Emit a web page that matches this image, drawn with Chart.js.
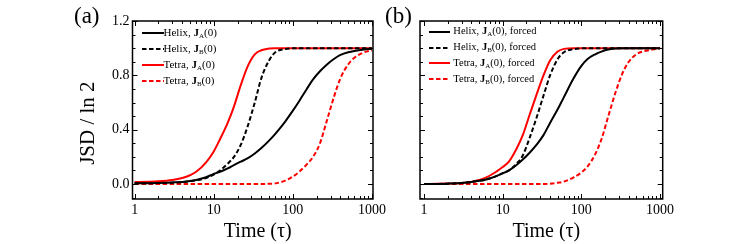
<!DOCTYPE html>
<html lang="en">
<head>
<meta charset="UTF-8">
<title>JSD vs time</title>
<script src="https://cdn.jsdelivr.net/npm/chart.js"></script>
<style>
    body { margin: 0; background: #fff; }
    #page {
        position: relative;
        width: 748px;
        height: 244px;
        overflow: hidden;
        font-family: "Liberation Serif", "Times New Roman", serif;
        color: #000;
    }
    canvas { position: absolute; top: 0; }
    #chartA { left: 0; }
    #chartB { left: 374px; }
    .tag { position: absolute; top: 1px; font-size: 23px; line-height: 30px; }
    .legend { position: absolute; font-size: 11px; }
    #legendB { font-size: 10.5px; }
    .legend .row { display: flex; align-items: center; height: 16px; white-space: nowrap; }
    #legendB .row { height: 15.8px; }
    .legend svg { flex: none; }
    .legend sub { font-size: 7px; vertical-align: -2px; }
</style>
</head>
<body>
<div id="page">
    <canvas id="chartA" width="400" height="244"></canvas>
    <canvas id="chartB" width="374" height="244"></canvas>
    <div class="tag" style="left:74px">(a)</div>
    <div class="tag" style="left:385px">(b)</div>
    <div class="legend" id="legendA" style="left:141.5px; top:25.3px"></div>
    <div class="legend" id="legendB" style="left:429.3px; top:24px"></div>
</div>

<script>
// time grid shared by every curve (tau)
const timeGrid = [1, 1.5, 2, 3, 4, 5, 6, 8, 10, 12, 15, 18, 22, 27, 33, 40,
                  50, 60, 80, 100, 120, 150, 180, 220, 270, 330, 400, 500, 600, 800, 1000];

// panel (a)
const helixA_a = [0.005, 0.006, 0.008, 0.012, 0.016, 0.022, 0.03, 0.05, 0.075, 0.09, 0.115, 0.14, 0.165, 0.19, 0.225, 0.265,
                  0.32, 0.37, 0.46, 0.54, 0.61, 0.7, 0.77, 0.83, 0.88, 0.92, 0.95, 0.97, 0.98, 0.99, 0.995];
const helixB_a = [0.005, 0.005, 0.007, 0.01, 0.015, 0.02, 0.027, 0.045, 0.07, 0.1, 0.15, 0.2, 0.29, 0.43, 0.6, 0.78,
                  0.91, 0.97, 0.993, 0.999, 1, 1, 1, 1, 1, 1, 1, 1, 1, 1, 1];
const tetraA_a = [0.015, 0.017, 0.02, 0.03, 0.045, 0.065, 0.09, 0.16, 0.24, 0.33, 0.45, 0.57, 0.73, 0.87, 0.955, 0.985,
                  0.997, 1, 1, 1, 1, 1, 1, 1, 1, 1, 1, 1, 1, 1, 1];
const tetraB_a = [0, 0, 0, 0, 0, 0, 0, 0, 0, 0, 0, 0, 0, 0, 0, 0,
                  0.002, 0.005, 0.025, 0.055, 0.09, 0.145, 0.2, 0.3, 0.47, 0.64, 0.78, 0.88, 0.93, 0.97, 0.985];

// panel (b), forced
const helixA_b = [0, 0.001, 0.003, 0.008, 0.015, 0.024, 0.032, 0.055, 0.078, 0.1, 0.14, 0.18, 0.23, 0.29, 0.36, 0.45,
                  0.55, 0.64, 0.78, 0.87, 0.92, 0.955, 0.975, 0.99, 0.997, 1, 1, 1, 1, 1, 1];
const helixB_b = [0, 0.001, 0.003, 0.008, 0.015, 0.024, 0.032, 0.055, 0.08, 0.1, 0.15, 0.21, 0.34, 0.49, 0.65, 0.8,
                  0.92, 0.97, 0.993, 0.999, 1, 1, 1, 1, 1, 1, 1, 1, 1, 1, 1];
const tetraA_b = [0, 0.002, 0.004, 0.007, 0.015, 0.03, 0.045, 0.085, 0.125, 0.165, 0.26, 0.36, 0.51, 0.66, 0.8, 0.91,
                  0.975, 0.995, 1, 1, 1, 1, 1, 1, 1, 1, 1, 1, 1, 1, 1];
const tetraB_b = [0, 0, 0, 0, 0, 0, 0, 0, 0, 0, 0, 0, 0, 0, 0, 0.003,
                  0.01, 0.018, 0.05, 0.085, 0.13, 0.22, 0.33, 0.5, 0.67, 0.81, 0.9, 0.955, 0.975, 0.99, 1];

const xTickValues = [1, 10, 100, 1000];
const yTickValues = [0, 0.4, 0.8, 1.2];
const legendNames = ['Helix', 'Helix', 'Tetra', 'Tetra'];
const legendInitial = ['A', 'B', 'A', 'B'];

const tickFont = { family: 'Liberation Serif', size: 14 };
const titleFont = { family: 'Liberation Serif', size: 20 };

function toPoints(values) {
    return timeGrid.map((t, i) => ({ x: t, y: values[i] }));
}

function series(values, color, dashed) {
    return {
        data: toPoints(values),
        borderColor: color,
        borderWidth: 2,
        borderDash: dashed ? [4.5, 2.5] : [],
        pointRadius: 0,
        cubicInterpolationMode: 'monotone',
        fill: false
    };
}

// box around the plot with inward ticks on all four sides
const frameTicks = {
    id: 'frameTicks',
    afterDatasetsDraw(chart) {
        const { ctx, chartArea: a, scales: { x, y } } = chart;
        ctx.save();
        ctx.strokeStyle = '#000';
        ctx.lineWidth = 1;
        ctx.beginPath();
        for (let d = 1; d <= 1000; d *= 10) {
            for (let m = 1; m <= 9; m++) {
                const v = m * d;
                if (v < x.min || v > x.max) continue;
                const px = Math.round(x.getPixelForValue(v)) + 0.5;
                const len = m === 1 ? 5 : 3;
                ctx.moveTo(px, a.bottom); ctx.lineTo(px, a.bottom - len);
                ctx.moveTo(px, a.top); ctx.lineTo(px, a.top + len);
                if (d === 1000) break;
            }
        }
        for (let k = -1; k <= 12; k++) {
            const py = Math.round(y.getPixelForValue(k / 10)) + 0.5;
            const len = k % 4 === 0 ? 5 : 3;
            ctx.moveTo(a.left, py); ctx.lineTo(a.left + len, py);
            ctx.moveTo(a.right, py); ctx.lineTo(a.right - len, py);
        }
        ctx.stroke();
        ctx.lineWidth = 1.5;
        ctx.strokeRect(a.left, a.top, a.right - a.left, a.bottom - a.top);
        ctx.restore();
    }
};

function buildOptions(xMin, xMax, yWidth, padRight, showY) {
    return {
        responsive: false,
        animation: false,
        devicePixelRatio: 1,
        layout: { padding: { left: 0, right: padRight, top: 21, bottom: 0 } },
        plugins: { legend: { display: false }, tooltip: { enabled: false } },
        scales: {
            x: {
                type: 'logarithmic',
                min: xMin,
                max: xMax,
                afterBuildTicks: s => { s.ticks = xTickValues.map(v => ({ value: v })); },
                afterFit: s => { s.height = 45; },
                grid: { display: false, drawTicks: false },
                border: { display: false },
                ticks: { color: '#000', font: tickFont, padding: 3, maxRotation: 0, autoSkip: false,
                         callback: v => String(v) },
                title: { display: true, text: '  Time (\u03c4)', color: '#000', font: titleFont,
                         padding: { top: 0, bottom: 0 } }
            },
            y: {
                min: -0.11,
                max: 1.2,
                afterBuildTicks: s => { s.ticks = yTickValues.map(v => ({ value: v })); },
                afterFit: s => { s.width = yWidth; },
                grid: { display: false, drawTicks: false },
                border: { display: false },
                ticks: { display: showY, color: '#000', font: tickFont, padding: 3,
                         callback: v => v.toFixed(1) },
                title: { display: showY, text: 'JSD / ln 2     ', color: '#000',
                         font: { family: 'Liberation Serif', size: 21 },
                         padding: { top: 75.9, bottom: 0 } }
            }
        }
    };
}

const chartA = new Chart(document.getElementById('chartA'), {
    type: 'line',
    data: {
        datasets: [
            series(helixA_a, '#000000', false),
            series(helixB_a, '#000000', true),
            series(tetraA_a, '#ff0000', false),
            series(tetraB_a, '#ff0000', true)
        ]
    },
    options: buildOptions(0.94, 1030, 132.5, 27, true),
    plugins: [frameTicks]
});

const chartB = new Chart(document.getElementById('chartB'), {
    type: 'line',
    data: {
        datasets: [
            series(helixA_b, '#000000', false),
            series(helixB_b, '#000000', true),
            series(tetraA_b, '#ff0000', false),
            series(tetraB_b, '#ff0000', true)
        ]
    },
    options: buildOptions(0.89, 1080, 46, 85.3, false),
    plugins: [frameTicks]
});

function buildLegend(el, chart, suffix, sampleWidth, gap) {
    chart.data.datasets.forEach((ds, i) => {
        const row = document.createElement('div');
        row.className = 'row';
        const dash = ds.borderDash.length ? ds.borderDash.join(' ') : 'none';
        row.innerHTML =
            '<svg width="' + sampleWidth + '" height="6" style="margin-right:' + gap + 'px">' +
            '<line x1="0" y1="3" x2="' + sampleWidth + '" y2="3" stroke="' + ds.borderColor +
            '" stroke-width="2" stroke-dasharray="' + dash + '"/></svg>' +
            '<span>' + legendNames[i] + ', <b>J</b><sub>' + legendInitial[i] + '</sub>(0)' + suffix + '</span>';
        el.appendChild(row);
    });
}

buildLegend(document.getElementById('legendA'), chartA, '', 22, 0);
buildLegend(document.getElementById('legendB'), chartB, ', forced', 21, 3);
</script>
</body>
</html>
